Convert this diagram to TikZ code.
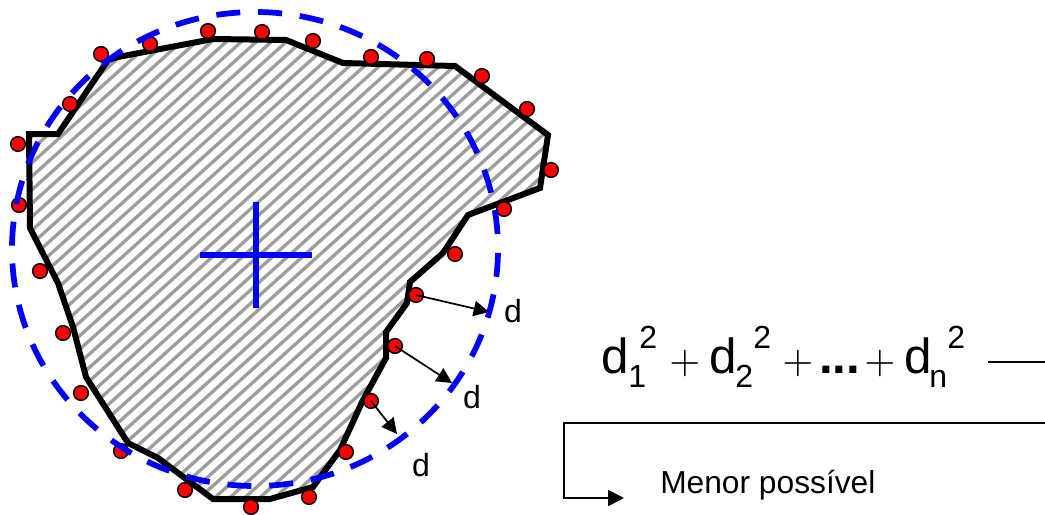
\documentclass[tikz,border=0pt]{standalone}
\usepackage{fontspec}
\setmainfont{Liberation Sans}
\usetikzlibrary{arrows.meta}
\newcommand{\shapepath}{(29,134) -- (58,134) -- (108,60) -- (118,57) -- (213,39) -- (286,40) -- (343,63)
    -- (455,66) -- (548,135) -- (540,188) -- (468,215) -- (443,253) -- (410,282) -- (407,303)
    -- (386,332) -- (386,358) -- (363,400) -- (340,450) -- (313,487) -- (270,499) -- (213,499)
    -- (158,458) -- (128,443) -- (86,377) -- (73,327) -- (58,283) -- (30,228) -- cycle}
\begin{document}
\begin{tikzpicture}[
    x=0.75pt, y=-0.75pt,
    outline/.style={line width=4.5pt, line join=miter},
    stripe/.style={black!38, line width=2.5pt},
    fit circle/.style={blue, line width=4.3pt, dash pattern=on 18pt off 13.4pt, dash phase=28.5pt},
    mark cross/.style={blue, line width=4.3pt},
    point/.style={circle, draw, fill=red, line width=1.1pt, inner sep=0pt, minimum width=11pt, minimum height=10pt},
    dist/.style={-{Triangle[length=11.5pt,width=11.5pt]}, line width=1.3pt},
    dlabel/.style={font=\fontsize{24}{28}\selectfont, inner sep=0pt},
    big/.style={font=\fontsize{37}{42}\selectfont, anchor=base west, inner sep=0pt},
    small/.style={font=\fontsize{24}{28}\selectfont, anchor=base west, inner sep=0pt},
    plus/.style={inner sep=0pt}
]
\useasboundingbox (0,0) rectangle (1045,514);

% Shape
\begin{scope}
\clip \shapepath;
\foreach \k in {-20,...,50}
    \draw[stripe] ({110+15*\k-400},520) -- ({110+15*\k+400},-200);
\end{scope}
\draw[outline] \shapepath;

% Points
\node[point] (p1) at (18,144) {};
\node[point] (p2) at (70,104) {};
\node[point] (p3) at (101,54) {};
\node[point] (p4) at (150,44) {};
\node[point] (p5) at (208,31) {};
\node[point] (p6) at (262,32) {};
\node[point] (p7) at (313,41) {};
\node[point] (p8) at (371,57) {};
\node[point] (p9) at (427,59) {};
\node[point] (p10) at (482,76) {};
\node[point] (p11) at (527,109) {};
\node[point] (p12) at (551,170) {};
\node[point] (p13) at (504,209) {};
\node[point] (p14) at (455,254) {};
\node[point] (p15) at (416,295) {};
\node[point] (p16) at (395,346) {};
\node[point] (p17) at (371,401) {};
\node[point] (p18) at (346,452) {};
\node[point] (p19) at (309,497) {};
\node[point] (p20) at (251,507) {};
\node[point] (p21) at (185,490) {};
\node[point] (p22) at (121,451) {};
\node[point] (p23) at (81,393) {};
\node[point] (p24) at (63,333) {};
\node[point] (p25) at (40,271) {};
\node[point] (p26) at (19,205) {};

% Circle and centre
\draw[fit circle] (255,249) ellipse (243 and 237);
\draw[mark cross] (200,255) -- (312,255);
\draw[mark cross] (256,202) -- (256,308);

% Distances
\coordinate (e1) at (489,312);
\coordinate (e2) at (452,383);
\coordinate (e3) at (397,434);
\draw[dist] (p15.center) -- (e1);
\draw[dist] (p16.center) -- (e2);
\draw[dist] (p17.center) -- (e3);
\node[dlabel] (d1) at (513,311) {d};
\node[dlabel] (d2) at (472,397) {d};
\node[dlabel] (d3) at (421,465) {d};

% Sum
\node[big] (a1) at (601,373) {d};
\node[small] (a2) at (628,387) {1};
\node[small] (a3) at (639,348) {2};
\node[plus] (a4) at (685,363) {\scalebox{3}{$+$}};
\node[big] (b1) at (709,373) {d};
\node[small] (b2) at (735,387) {2};
\node[small] (b3) at (753,348) {2};
\node[plus] (b4) at (798,363) {\scalebox{3}{$+$}};
\node[big] (c1) at (819,373) {\textbf{...}};
\node[plus] (c2) at (880,363) {\scalebox{3}{$+$}};
\node[big] (n1) at (904,373) {d};
\node[small] (n2) at (929,387) {n};
\node[small] (n3) at (947,348) {2};
\coordinate (t1) at (988,362);
\coordinate (t2) at (1045,362);
\draw[line width=1.1pt] (t1) -- (t2);

% Bracket
\coordinate (s1) at (1045,423);
\coordinate (s2) at (564,423);
\coordinate (s3) at (564,498);
\coordinate (s4) at (624,498);
\draw[-{Triangle[length=12pt,width=12pt]}, line width=1.2pt] (s1) -- (s2) -- (s3) -- (s4);
\node[font=\fontsize{23.8}{28}\selectfont, anchor=base west, inner sep=0pt] (m) at (660,493) {Menor possível};
\end{tikzpicture}
\end{document}
